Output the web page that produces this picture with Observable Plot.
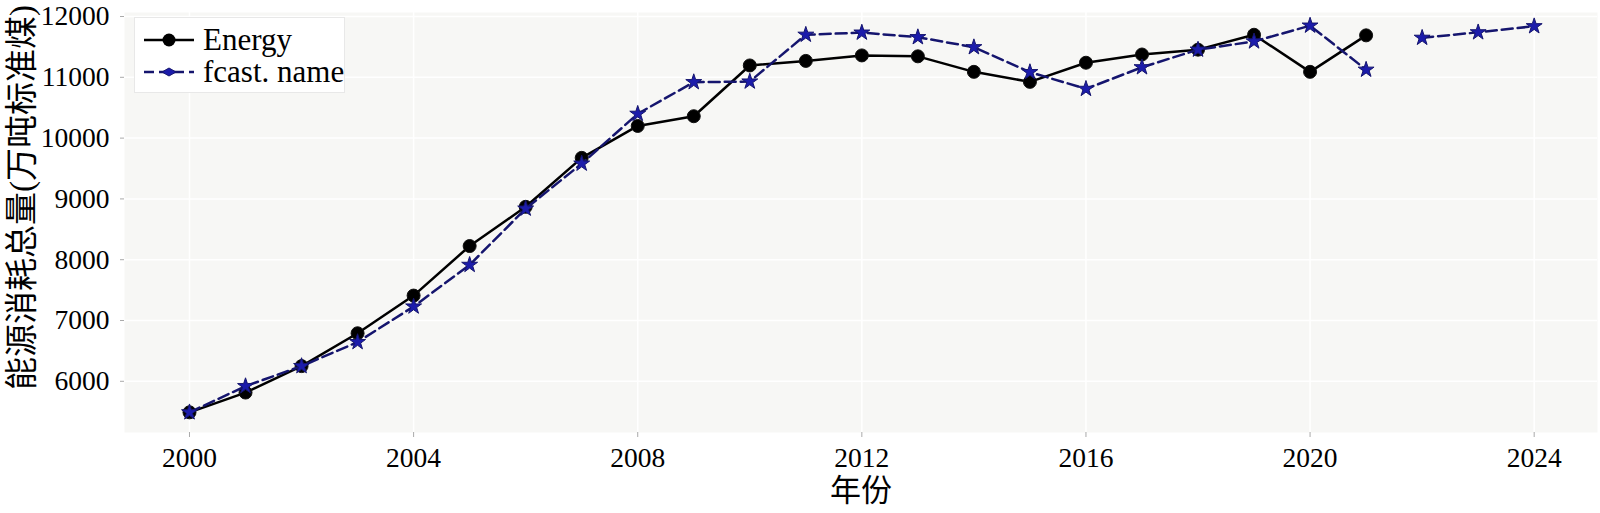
<!DOCTYPE html>
<html><head><meta charset="utf-8">
<script src="https://cdn.jsdelivr.net/npm/d3@7"></script>
<script src="https://cdn.jsdelivr.net/npm/@observablehq/plot@0.6"></script>
<style>
html,body{margin:0;padding:0;background:#fff;}
#wrap{position:relative;width:1600px;height:513px;}
#legend{position:absolute;left:134px;top:17px;width:211px;height:76px;box-sizing:border-box;border:1px solid #e8e8e8;background:#fff;font-family:"Liberation Serif","Times New Roman",serif;font-size:31px;color:#000;}
#legend .row{position:absolute;left:8px;height:32px;display:flex;align-items:center;white-space:nowrap;}
#legend .row svg{margin-right:8px;}
</style>
</head><body>
<div id="wrap"><div id="legend"></div></div>
<script>
// ---- data ----
const energyYears = [2000,2001,2002,2003,2004,2005,2006,2007,2008,2009,2010,2011,2012,2013,2014,2015,2016,2017,2018,2019,2020,2021];
const energyValues = [5490,5815,6250,6790,7410,8225,8870,9675,10200,10360,11195,11270,11360,11345,11090,10925,11240,11375,11455,11700,11090,11690];
const fcastYears = [2000,2001,2002,2003,2004,2005,2006,2007,2008,2009,2010,2011,2012,2013,2014,2015,2016,2017,2018,2019,2020,2021];
const fcastValues = [5490,5920,6250,6645,7230,7915,8840,9580,10400,10920,10930,11700,11735,11660,11495,11085,10810,11165,11455,11590,11850,11125];
const futureYears = [2022,2023,2024];
const futureValues = [11650,11740,11840];
const xTicks = [2000,2004,2008,2012,2016,2020,2024];
const yTicks = [6000,7000,8000,9000,10000,11000,12000];
const seriesNames = ["Energy","fcast. name"];
const xLabel = "年份";
const yLabel = "能源消耗总量(万吨标准煤)";

const energy = energyYears.map((y,i)=>({year:y, value:energyValues[i]}));
const fcast = fcastYears.map((y,i)=>({year:y, value:fcastValues[i], seg:"a"}))
  .concat(futureYears.map((y,i)=>({year:y, value:futureValues[i], seg:"b"})));

const navy = "#15156e", starFill = "#1c1cab";
const fonts = '"Liberation Serif","Times New Roman","Noto Sans CJK SC",serif';

const chart = Plot.plot({
  width: 1600, height: 513,
  marginLeft: 124, marginRight: 3, marginTop: 12, marginBottom: 81,
  style: {fontFamily: fonts, fontSize: "27.5px", background: "#fff", color: "#000"},
  x: {domain: [1998.84, 2025.13]},
  y: {domain: [5158, 12066]},
  marks: [
    Plot.frame({fill: "#f7f7f5", stroke: null}),
    Plot.gridX(xTicks, {stroke: "#fff", strokeOpacity: 1, strokeWidth: 1.5}),
    Plot.gridY(yTicks, {stroke: "#fff", strokeOpacity: 1, strokeWidth: 1.5}),
    Plot.line(energy, {x: "year", y: "value", stroke: "#000", strokeWidth: 2.5}),
    Plot.dot(energy, {x: "year", y: "value", r: 6.5, fill: "#000", stroke: "#111", strokeWidth: 1}),
    Plot.line(fcast, {x: "year", y: "value", z: "seg", stroke: navy, strokeWidth: 2.5, strokeDasharray: "11,5"}),
    Plot.dot(fcast, {x: "year", y: "value", symbol: "star", r: 5, fill: starFill, stroke: navy, strokeWidth: 1}),
    Plot.axisX(xTicks, {tickSize: 5, tickPadding: 10, stroke: "#aaa", fill: "#000", tickFormat: "d", label: null}),
    Plot.axisY(yTicks, {tickSize: 4, tickPadding: 11, stroke: "#aaa", fill: "#000", tickFormat: "d", label: null}),
    Plot.text([yLabel], {text: d => d, frameAnchor: "left", textAnchor: "middle", lineAnchor: "middle", rotate: -90, dx: -102, dy: -25, fontSize: 33, fill: "#000"}),
    Plot.text([xLabel], {text: d => d, frameAnchor: "bottom", textAnchor: "middle", lineAnchor: "middle", dy: 59, fontSize: 31, fill: "#000"})
  ]
});
document.getElementById("wrap").prepend(chart);

// legend
const legend = d3.select("#legend");
const r1 = legend.append("div").attr("class","row").style("top","6px");
const s1 = r1.append("svg").attr("width",52).attr("height",20);
s1.append("line").attr("x1",1).attr("x2",51).attr("y1",10).attr("y2",10).attr("stroke","#000").attr("stroke-width",2.5);
s1.append("circle").attr("cx",26).attr("cy",10).attr("r",6.5).attr("fill","#000");
r1.append("span").text(seriesNames[0]);
const r2 = legend.append("div").attr("class","row").style("top","38px");
const s2 = r2.append("svg").attr("width",52).attr("height",20);
s2.append("line").attr("x1",1).attr("x2",51).attr("y1",10).attr("y2",10).attr("stroke",navy).attr("stroke-width",2.5).attr("stroke-dasharray","10,5");
s2.append("path").attr("d","M19,10 L26,6 L33,10 L26,14 Z").attr("fill",starFill).attr("stroke",navy);
r2.append("span").text(seriesNames[1]);
</script>
</body></html>
